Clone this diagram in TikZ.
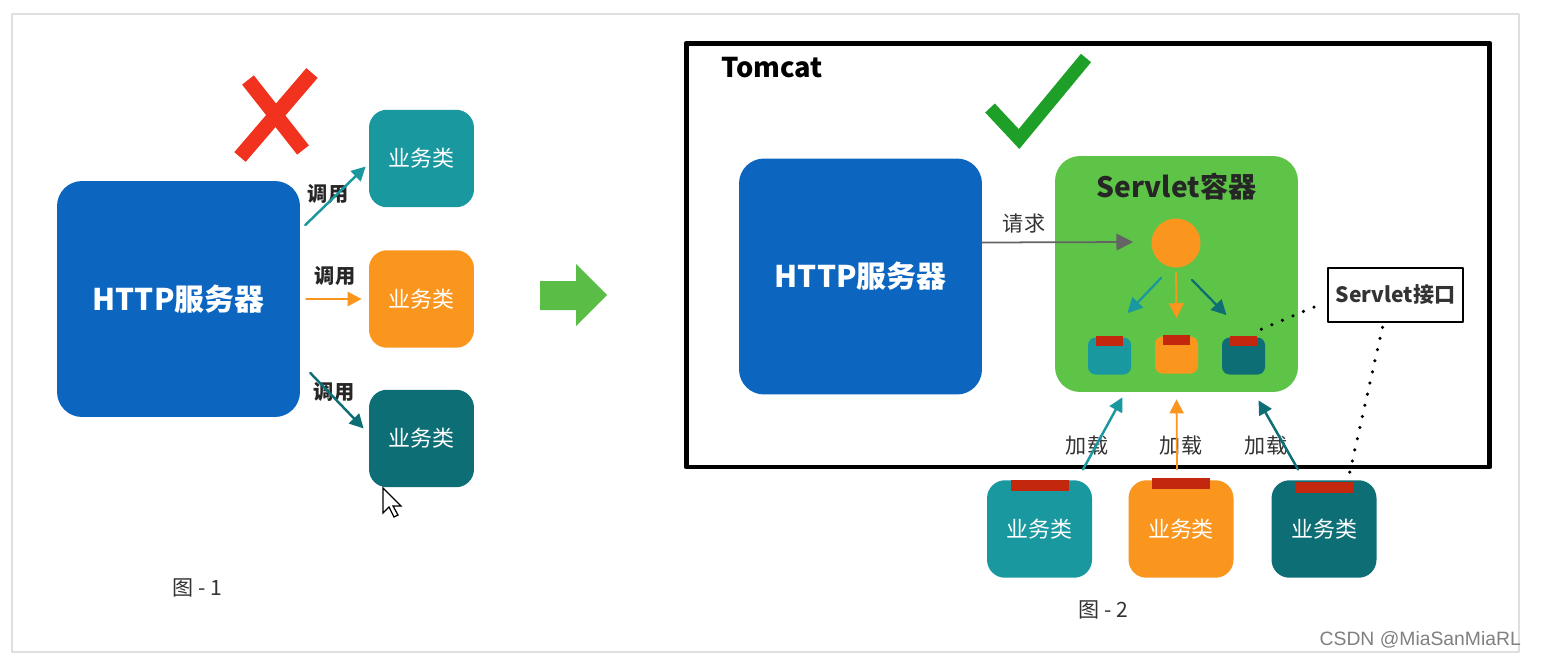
\documentclass[tikz,border=0pt]{standalone}
\usepackage{fontspec}
\setmainfont{Noto Sans CJK SC}
\newfontfamily\markfont{Liberation Sans}
\usepackage{tikz}
\usetikzlibrary{arrows.meta,calc}
\definecolor{HttpBlue}{RGB}{12,102,192}
\definecolor{BizTeal}{RGB}{26,152,160}
\definecolor{BizOrange}{RGB}{250,150,30}
\definecolor{BizDark}{RGB}{14,110,118}
\definecolor{BoxGreen}{RGB}{94,196,72}
\definecolor{TabRed}{RGB}{195,40,15}
\definecolor{XRed}{RGB}{240,50,30}
\definecolor{CheckGreen}{RGB}{30,160,40}
\definecolor{BigGreen}{RGB}{90,190,70}
\definecolor{ReqGray}{RGB}{100,100,100}

\begin{document}
\begin{tikzpicture}[x=0.02cm,y=-0.02cm,line cap=round,line join=round,
  bigbox/.style={rounded corners=0.5cm,minimum width=4.86cm,minimum height=4.72cm,inner sep=0pt},
  httpbox/.style={bigbox,fill=HttpBlue,text=white,font=\bfseries\fontsize{17}{20}\selectfont},
  bizbox/.style={rounded corners=0.36cm,minimum width=2.1cm,minimum height=1.95cm,inner sep=0pt,
    text=white,font=\fontsize{12.5}{14}\selectfont},
  smallbox/.style={rounded corners=0.15cm,minimum width=0.86cm,minimum height=0.74cm,inner sep=0pt},
  tabbig/.style={fill=TabRed,minimum width=1.16cm,minimum height=0.22cm,inner sep=0pt,anchor=north},
  tabsmall/.style={fill=TabRed,minimum width=0.54cm,minimum height=0.2cm,inner sep=0pt,anchor=north},
  lbl/.style={font=\bfseries\fontsize{11.5}{13}\selectfont,text=black!85},
  loadlbl/.style={font=\fontsize{12}{14}\selectfont,text=black!80},
  callarr/.style={line width=1.4pt,-{Triangle[length=8pt,width=8pt]}},
  innerarr/.style={line width=1.3pt,-{Triangle[length=8.5pt,width=8.5pt]}},
  dots/.style={line width=2pt,dash pattern=on 0pt off 6.5pt,line cap=round}]
  \useasboundingbox (0,0) rectangle (1541,659);
  \fill[white] (0,0) rectangle (1541,659);
  \draw[gray!25,line width=1pt] (12,14) rectangle (1519,652);

  % Fig. 1
  \node[httpbox] (http1) at (178.5,299) {HTTP服务器};
  \node[bizbox,fill=BizTeal] (biz1) at (421.5,158.5) {业务类};
  \node[bizbox,fill=BizOrange] (biz2) at (421.5,299) {业务类};
  \node[bizbox,fill=BizDark] (biz3) at (421.5,438.5) {业务类};
  \node[lbl] (call1) at (328,194) {调用};
  \node[lbl] (call2) at (335,276) {调用};
  \node[lbl] (call3) at (334,392) {调用};
  \draw[callarr,BizTeal] ($(http1.east)+(5,-74)$) -- ($(biz1.west)+(-3,8)$);
  \draw[callarr,BizOrange] ($(http1.east)+(6,0)$) -- ($(biz2.west)+(-7,0)$);
  \draw[callarr,BizDark] ($(http1.east)+(10,74)$) -- ($(biz3.west)+(-5,-10)$);
  \draw[XRed,line width=8.5pt,line cap=butt] (312,73) -- (240,157);
  \draw[XRed,line width=8.5pt,line cap=butt] (248,80) -- (303,150);
  \draw[fill=white,line width=0.7pt,line join=miter] (383,488) -- (383,513) -- (389,507) -- (394,517)
    -- (398,515) -- (393,506) -- (401,506) -- cycle;
  \node[loadlbl] (fig1) at (197,588) {图 - 1};

  \fill[BigGreen] (540,281) -- (576,281) -- (576,264) -- (607,295) -- (576,326) -- (576,310) -- (540,310) -- cycle;

  % Fig. 2
  \node[draw=black,line width=2.8pt,minimum width=16.08cm,minimum height=8.48cm,inner sep=0pt] (tomcat) at (1088,255) {};
  \node[anchor=west,font=\bfseries\fontsize{15.5}{18}\selectfont] (tomcatlbl) at (715,68) {Tomcat};
  \draw[CheckGreen,line width=7.5pt,line cap=butt,line join=miter] (990,108) -- (1019,139) -- (1086,58);
  \node[httpbox] (http2) at (860.5,276.5) {HTTP服务器};
  \node[bigbox,fill=BoxGreen] (servlet) at (1176.5,274) {};
  \node[font=\bfseries\fontsize{16}{18}\selectfont,text=black!85] (stitle) at (1176.5,187) {Servlet容器};
  \node[circle,fill=BizOrange,minimum size=0.98cm,inner sep=0pt] (disp) at (1176,243) {};
  \node[smallbox,fill=BizTeal] (sb1) at (1109.5,356) {};
  \node[smallbox,fill=BizOrange] (sb2) at (1176.5,355) {};
  \node[smallbox,fill=BizDark] (sb3) at (1243.5,356) {};
  \node[tabsmall] (st1) at ($(sb1.north)+(0,-2)$) {};
  \node[tabsmall] (st2) at ($(sb2.north)+(0,-2)$) {};
  \node[tabsmall] (st3) at ($(sb3.north)+(0,-2)$) {};
  \node[loadlbl] (reqlbl) at (1024,224) {请求};
  \draw[ReqGray,line width=1pt,-{Triangle[length=9.5pt,width=9.5pt]}] ($(http2.east)+(0,-34)$) -- ($(disp.west)+(-18,-1)$);
  \draw[innerarr,BizTeal] ($(disp)+(-15,35)$) -- ($(sb1.north)+(18,-24)$);
  \draw[innerarr,BizOrange,line width=1pt] ($(disp)+(0,30)$) -- ($(sb2.north)+(0,-18)$);
  \draw[innerarr,BizDark] ($(disp)+(16,37)$) -- ($(sb3.north)+(-17,-22)$);

  \node[draw=black,line width=1.5pt,fill=white,minimum width=2.7cm,minimum height=1.08cm,inner sep=0pt,
    font=\bfseries\fontsize{12}{14}\selectfont,text=black!80] (iface) at (1395.5,295) {Servlet接口};
  \draw[dots] ($(sb3.north east)+(-4,-8)$) -- ($(iface.west)+(-3,8)$);

  \node[bizbox,fill=BizTeal] (biz4) at (1039.5,529) {业务类};
  \node[bizbox,fill=BizOrange] (biz5) at (1181,529) {业务类};
  \node[bizbox,fill=BizDark] (biz6) at (1324,529) {业务类};
  \node[tabbig] (bt4) at (biz4.north) {};
  \node[tabbig] (bt5) at ($(biz5.north)+(0,-2)$) {};
  \node[tabbig] (bt6) at ($(biz6.north)+(0,2)$) {};
  \draw[dots] ($(iface.south)+(-13,4)$) -- ($(biz6.north)+(24,0)$);

  \node[loadlbl] (load1) at (1087,445) {加载};
  \node[loadlbl] (load2) at (1181,445) {加载};
  \node[loadlbl] (load3) at (1266,445) {加载};
  \draw[callarr,BizTeal] ($(tomcat.south)+(-5,0)$) -- ($(servlet.south)+(-54,5)$);
  \draw[callarr,BizOrange,line width=1pt] ($(tomcat.south)+(89,0)$) -- ($(servlet.south)+(0,7)$);
  \draw[callarr,BizDark] ($(tomcat.south)+(210,0)$) -- ($(servlet.south)+(82,8)$);
  \node[loadlbl] (fig2) at (1103,610) {图 - 2};

  \node[anchor=east,text=gray,font=\markfont\fontsize{11}{13}\selectfont] (mark) at (1527,640) {CSDN @MiaSanMiaRL};
\end{tikzpicture}
\end{document}
